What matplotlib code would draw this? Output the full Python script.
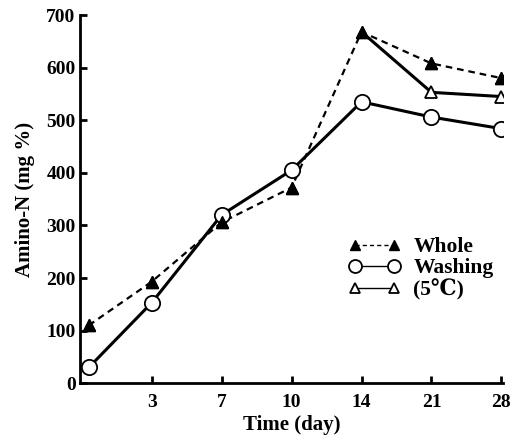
import numpy as np
import matplotlib
matplotlib.use("Agg")
import matplotlib.pyplot as plt

plt.rcParams["font.family"] = ["Liberation Serif", "DejaVu Serif"]
plt.rcParams["font.weight"] = "bold"

# data
days = [0, 3, 7, 10, 14, 21, 28]
tick_days = [3, 7, 10, 14, 21, 28]
whole = [110, 193, 306, 372, 668, 608, 580]
washing = [30, 153, 320, 405, 535, 506, 484]
cold_days = [14, 21, 28]
cold = [668, 553, 545]

# x axis is not linear in days: each labelled day gets an even slot
slot = {0: 0.1, 3: 1, 7: 2, 10: 3, 14: 4, 21: 5, 28: 6}


def to_x(dd):
    return [slot[d] for d in dd]


fig = plt.figure(figsize=(5.12, 4.42), dpi=100)
ax = fig.add_axes([0.157, 0.133, 0.825, 0.833])

ax.plot(to_x(days), whole, color="black", lw=1.6, ls=(0, (3, 2.2)),
        marker="^", ms=8, mfc="black", mec="black", label="Whole")
ax.plot(to_x(days), washing, color="black", lw=2.2, ls="-",
        marker="o", ms=11, mfc="white", mec="black", mew=1.3,
        label="Washing")
ax.plot(to_x(cold_days), cold, color="black", lw=2.2, ls="-",
        marker="^", ms=8, mfc="white", mec="black", mew=1.3,
        markevery=[1, 2], label="(5\u2103)")
# redraw whole markers on top
ax.plot(to_x(days), whole, ls="none", marker="^", ms=8,
        mfc="black", mec="black")

ax.set_xlim(-0.02, 6.02)
ax.set_ylim(0, 700)
ax.set_xticks(to_x(tick_days))
ax.set_xticklabels([str(d) for d in tick_days])
ax.set_yticks(np.arange(0, 701, 100))

for s in ["top", "right"]:
    ax.spines[s].set_visible(False)
for s in ["left", "bottom"]:
    ax.spines[s].set_linewidth(2)
ax.tick_params(direction="in", width=2, length=5, labelsize=14)
ax.tick_params(axis="x", pad=8)
for lab in ax.get_xticklabels() + ax.get_yticklabels():
    lab.set_fontweight("bold")

ax.set_xlabel("Time (day)", fontsize=15, fontweight="bold", labelpad=3)
ax.set_ylabel("Amino-N (mg %)", fontsize=15, fontweight="bold", labelpad=8)

leg = ax.legend(loc="upper left", bbox_to_anchor=(0.615, 0.42),
                frameon=False, numpoints=2, handlelength=2.4,
                handletextpad=0.6, labelspacing=0.05, borderaxespad=0,
                markerscale=0.85, prop={"weight": "bold", "size": 15.5})
for h in leg.legend_handles:
    h.set_linewidth(1.0)

fig.savefig("out.png", dpi=100)
